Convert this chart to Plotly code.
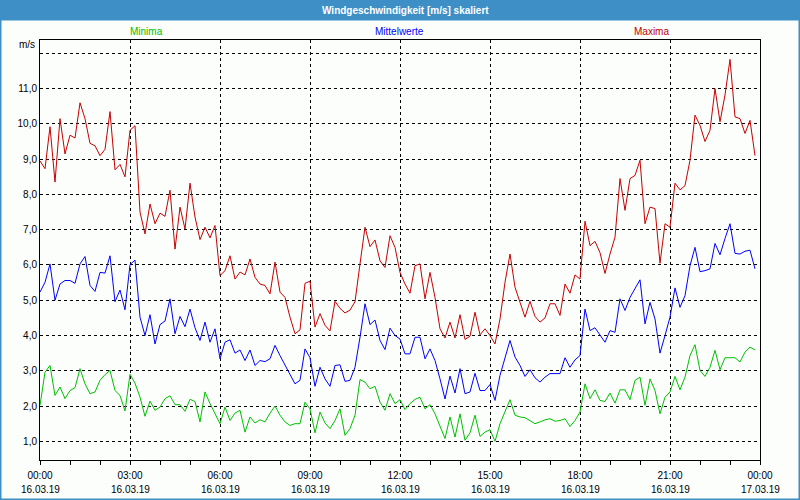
import plotly.graph_objects as go
import pandas as pd

title_text = "Windgeschwindigkeit [m/s] skaliert"
series_names = ["Minima", "Mittelwerte", "Maxima"]
series_colors = ["#00c000", "#0000ff", "#c80000"]

start_time = "2019-03-16 00:00"
end_time = "2019-03-17 00:00"
times = pd.date_range(start_time, periods=144, freq="10min")

maxima = [
    8.95, 8.73, 9.92, 8.35, 10.15, 9.15, 9.68, 9.6, 10.6, 10.15,
    9.45, 9.38, 9.1, 9.28, 10.35, 8.7, 8.85, 8.5, 9.82, 9.95,
    7.5, 6.88, 7.73, 7.17, 7.47, 7.38, 8.12, 6.45, 7.64, 7.02,
    8.32, 7.36, 6.72, 7.07, 6.77, 7.12, 5.7, 5.84, 6.26, 5.6,
    5.8, 5.72, 6.17, 5.65, 5.46, 5.42, 5.18, 6.08, 5.23, 5.08,
    4.52, 4.05, 4.16, 5.48, 5.54, 4.24, 4.62, 4.29, 4.13, 4.97,
    4.77, 4.64, 4.72, 4.96, 6.03, 7.07, 6.52, 6.71, 6.12, 5.93,
    6.83, 6.5, 5.79, 5.46, 5.2, 5.98, 6.03, 5.04, 5.79, 5.08,
    4.19, 3.93, 4.38, 3.93, 4.59, 3.89, 3.98, 4.66, 4.02, 4.19,
    4.0, 3.76, 4.47, 5.51, 6.31, 5.37, 4.94, 4.52, 4.97, 4.54,
    4.38, 4.5, 4.9, 4.9, 4.57, 5.46, 5.2, 5.72, 5.6, 7.24,
    6.55, 6.67, 6.35, 5.76, 6.31, 6.79, 8.45, 7.55, 8.45, 8.54,
    8.97, 7.17, 7.64, 7.6, 6.05, 7.17, 7.07, 8.32, 8.13, 8.25,
    8.97, 10.25, 9.96, 9.5, 9.82, 11.0, 10.06, 10.82, 11.83, 10.2,
    10.15, 9.73, 10.1, 9.1,
]

mittelwerte = [
    5.23, 5.51, 6.03, 5.0, 5.46, 5.56, 5.56, 5.48, 6.03, 6.24,
    5.42, 5.25, 5.79, 5.77, 6.26, 4.96, 5.29, 4.73, 6.01, 6.14,
    4.52, 4.0, 4.59, 3.76, 4.31, 4.41, 5.04, 4.05, 4.54, 4.25,
    4.75, 4.22, 3.86, 4.38, 3.81, 4.19, 3.34, 3.81, 3.88, 3.5,
    3.59, 3.29, 3.59, 3.15, 3.29, 3.26, 3.34, 3.72, 3.43, 3.15,
    2.87, 2.63, 2.73, 3.62, 3.37, 2.56, 3.1, 2.77, 2.56, 3.15,
    3.17, 2.7, 2.73, 3.1, 3.95, 4.9, 4.31, 4.44, 3.86, 3.6,
    4.21, 4.0, 3.9, 3.48, 3.48, 3.95, 3.95, 3.34, 3.62, 3.29,
    2.77, 2.2, 2.85, 2.37, 3.06, 2.35, 2.4, 2.93, 2.44, 2.44,
    2.61, 2.16, 2.87, 3.34, 3.86, 3.39, 3.15, 2.84, 3.03, 2.8,
    2.68, 2.82, 2.92, 2.92, 2.92, 3.37, 3.1, 3.31, 3.43, 4.75,
    4.14, 4.22, 4.0, 3.81, 4.14, 4.09, 5.04, 4.71, 5.08, 5.32,
    5.58, 4.33, 4.94, 4.47, 3.5, 4.0, 4.52, 5.35, 4.8, 5.13,
    5.98, 6.5, 5.81, 5.84, 5.89, 6.61, 6.29, 6.75, 7.17, 6.33,
    6.31, 6.39, 6.42, 5.89,
]

minima = [
    2.02, 2.96, 3.15, 2.3, 2.54, 2.21, 2.44, 2.52, 3.06, 2.63,
    2.35, 2.4, 2.73, 2.89, 3.01, 2.44, 2.3, 1.86, 2.9, 2.65,
    2.25, 1.71, 2.14, 1.88, 1.97, 2.21, 2.29, 2.04, 2.04, 1.85,
    2.19, 2.13, 1.55, 2.4, 2.07, 1.78, 1.5, 1.97, 1.59, 1.8,
    1.88, 1.26, 1.69, 1.52, 1.61, 1.55, 1.8, 2.0, 1.74, 1.55,
    1.45, 1.5, 1.5, 2.11, 1.92, 1.24, 1.83, 1.52, 1.36, 1.59,
    1.92, 1.17, 1.36, 1.74, 2.75, 2.68, 2.49, 2.56, 2.11, 1.88,
    2.35, 2.07, 2.18, 1.9, 2.07, 2.19, 2.25, 1.92, 2.04, 1.78,
    1.45, 1.08, 1.69, 1.12, 1.78, 1.03, 1.24, 1.74, 1.14, 1.26,
    1.33, 1.0, 1.5, 1.83, 2.18, 1.74, 1.69, 1.67, 1.59, 1.5,
    1.55, 1.61, 1.64, 1.57, 1.59, 1.64, 1.42, 1.59, 1.83, 2.63,
    2.21, 2.46, 2.16, 2.13, 2.37, 2.08, 2.46, 2.46, 2.18, 2.73,
    2.82, 2.02, 2.77, 2.44, 1.78, 2.25, 2.4, 2.84, 2.46, 2.82,
    3.43, 3.74, 3.01, 2.84, 3.1, 3.58, 3.03, 3.37, 3.37, 3.37,
    3.25, 3.53, 3.67, 3.59,
]

y_tickvals = [1, 2, 3, 4, 5, 6, 7, 8, 9, 10, 11, 12]
y_ticktext = ["1,0", "2,0", "3,0", "4,0", "5,0", "6,0", "7,0", "8,0", "9,0", "10,0", "11,0", ""]

x_tickvals = pd.date_range(start_time, end_time, freq="3h")
x_time_labels = ["00:00", "03:00", "06:00", "09:00", "12:00", "15:00", "18:00", "21:00", "00:00"]
x_date_labels = ["16.03.19", "16.03.19", "16.03.19", "16.03.19", "16.03.19",
                 "16.03.19", "16.03.19", "16.03.19", "17.03.19"]
x_minor_vals = pd.date_range(start_time, end_time, freq="1h")

W, H = 800, 500
L, R, T, B = 40, 40, 40, 40
PW, PH = W - L - R, H - T - B


def px_x(px):
    return (px - L) / PW


def px_y(py):
    return (H - B - py) / PH


FONT = "Liberation Sans, Arial, sans-serif"
BLUE_FRAME = "#3d8fc6"

fig = go.Figure()
for name, vals, col in [("Maxima", maxima, series_colors[2]),
                        ("Mittelwerte", mittelwerte, series_colors[1]),
                        ("Minima", minima, series_colors[0])]:
    fig.add_trace(go.Scatter(x=times, y=vals, mode="lines", name=name,
                             line=dict(color=col, width=1), hoverinfo="skip"))

fig.update_layout(
    width=W, height=H,
    margin=dict(l=L, r=R, t=T, b=B, autoexpand=False),
    paper_bgcolor="#fcfefc",
    plot_bgcolor="#fcfefc",
    showlegend=False,
    font=dict(family=FONT, size=10, color="#000000"),
    xaxis=dict(
        type="date",
        automargin=False,
        range=[start_time, end_time],
        tickmode="array", tickvals=x_tickvals, ticktext=x_time_labels,
        ticks="outside", ticklen=4, tickcolor="#000", tickwidth=1,
        ticklabelstandoff=2,
        showgrid=True, gridcolor="#000", gridwidth=1, griddash="3px,3px",
        showline=True, linecolor="#000", linewidth=1, mirror=True,
        zeroline=False,
        tickfont=dict(family=FONT, size=10, color="#000"),
        minor=dict(tickvals=x_minor_vals, ticks="outside", ticklen=4,
                   tickcolor="#000", tickwidth=1, showgrid=False),
    ),
    yaxis=dict(
        automargin=False,
        range=[0.47, 12.38],
        tickmode="array", tickvals=y_tickvals, ticktext=y_ticktext,
        ticks="",
        showgrid=True, gridcolor="#000", gridwidth=1, griddash="3px,3px",
        showline=True, linecolor="#000", linewidth=1, mirror=True,
        zeroline=False,
        tickfont=dict(family=FONT, size=10, color="#000"),
    ),
)

shapes = [
    dict(type="rect", xref="paper", yref="paper",
         x0=px_x(0), x1=px_x(800), y0=px_y(20.5), y1=px_y(0),
         fillcolor=BLUE_FRAME, line=dict(width=0), layer="above"),
    dict(type="rect", xref="paper", yref="paper",
         x0=px_x(0.75), x1=px_x(799.25), y0=px_y(499.25), y1=px_y(0.75),
         fillcolor="rgba(0,0,0,0)", line=dict(color=BLUE_FRAME, width=1.5), layer="above"),
]
fig.update_layout(shapes=shapes)

annotations = [
    dict(text="<b>" + title_text + "</b>", x=px_x(405), y=px_y(10.5), xref="paper",
         font=dict(family=FONT, size=10, color="#ffffff")),
    dict(text=series_names[0], x=px_x(146), y=px_y(31), xref="paper",
         font=dict(family=FONT, size=10, color=series_colors[0])),
    dict(text=series_names[1], x=px_x(399), y=px_y(31), xref="paper",
         font=dict(family=FONT, size=10, color=series_colors[1])),
    dict(text=series_names[2], x=px_x(651), y=px_y(31), xref="paper",
         font=dict(family=FONT, size=10, color="#c00000")),
    dict(text="m/s", x=px_x(37), y=px_y(45), xanchor="right", xref="paper",
         font=dict(family=FONT, size=10, color="#000")),
]
for tv, dl in zip(x_tickvals, x_date_labels):
    annotations.append(dict(text=dl, x=tv, xref="x", y=px_y(489),
                            font=dict(family=FONT, size=10, color="#000")))
for a in annotations:
    a.setdefault("xanchor", "center")
    a.update(yref="paper", yanchor="middle", showarrow=False)
fig.update_layout(annotations=annotations)

fig.write_html(
    "out.html",
    config={"displayModeBar": False},
    post_script="document.body.style.margin='0';document.body.style.padding='0';"
                "document.documentElement.style.overflow='hidden';",
)
